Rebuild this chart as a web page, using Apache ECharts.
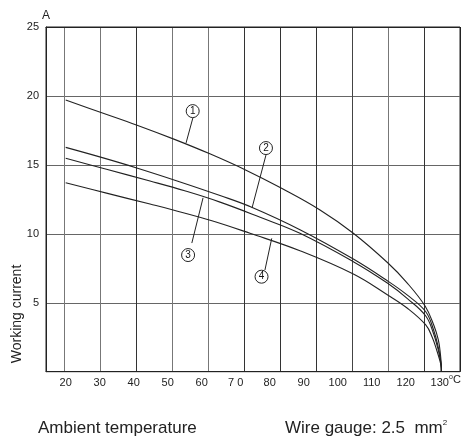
<!DOCTYPE html>
<html>
<head>
<meta charset="utf-8">
<script src="https://cdn.jsdelivr.net/npm/echarts@6/dist/echarts.min.js"></script>
<style>
html,body{margin:0;padding:0;background:#fff;}
#c{width:465px;height:439px;}
</style>
</head>
<body>
<div id="c"></div>
<script>
// Curve data: [temperature °C, current A]
const curve1 = [[20,19.7],[30.4,18.8],[41,17.88],[52,16.85],[62.4,15.8],[72.9,14.63],[83.5,13.3],[94.8,11.73],[104.6,10.04],[114.7,7.9],[120.2,6.5],[125.7,4.76],[128.3,3.35],[129.6,2.3],[130.2,1.3],[130.45,0.55],[130.5,0]];
const curve2 = [[20,16.27],[30,15.58],[40.9,14.78],[53,13.82],[65.4,12.78],[74.7,11.93],[88.9,10.3],[104.6,8.17],[114.7,6.58],[120.5,5.55],[125.9,4.35],[128.3,2.95],[129.6,1.75],[130.2,0.95],[130.45,0.4],[130.5,0]];
const curve3 = [[20,15.48],[32,14.68],[44.8,13.83],[55,13.12],[65.4,12.3],[77,11.22],[88.9,10.04],[104.6,7.98],[114.7,6.41],[120.5,5.3],[125.9,4.04],[128.2,2.75],[129.5,1.65],[130.15,0.9],[130.45,0.38],[130.5,0]];
const curve4 = [[20,13.71],[32,12.95],[44.8,12.16],[51.6,11.73],[63,10.95],[74.2,10.04],[88.9,8.77],[104.6,7.08],[114.7,5.56],[120.5,4.6],[125.9,3.39],[127.8,2.5],[129.2,1.5],[130.05,0.8],[130.45,0.33],[130.5,0]];
const curveNames = ['1','2','3','4'];
// Annotation circles (position in data units) and their leader lines
const markerPos = [[57.35,18.9],[78.9,16.22],[56.0,8.46],[77.6,6.89]];
const leaders = [
  [[57.4,18.4],[55.4,16.59]],
  [[78.9,15.71],[74.8,11.87]],
  [[57.1,9.33],[60.4,12.61]],
  [[78.6,7.37],[80.6,9.67]]
];
const yTicks = {min:0, max:25, interval:5};
const labelAxisRange = {min:14.21, max:135.97};
const gridAxisRange = {min:14.9, max:130};

const chart = echarts.init(document.getElementById('c'), null, {renderer:'canvas'});
const FONT = '"Liberation Sans", Arial, sans-serif';
const lineColor = '#222';

const series = [];
[curve1, curve2, curve3, curve4].forEach((d, i) => {
  series.push({
    type:'line', name:'c'+curveNames[i], data:d, xAxisIndex:0, yAxisIndex:0,
    showSymbol:false, smooth:0.4,
    lineStyle:{color:lineColor, width:1.1}, silent:true, z:3
  });
});
leaders.forEach((d) => {
  series.push({
    type:'line', data:d, xAxisIndex:0, yAxisIndex:0, showSymbol:false,
    lineStyle:{color:lineColor, width:1}, silent:true, z:3
  });
});
series.push({
  type:'scatter', xAxisIndex:0, yAxisIndex:0,
  data: markerPos.map((p, i) => ({value:p, name:curveNames[i]})),
  symbol:'circle', symbolSize:13,
  itemStyle:{color:'#fff', borderColor:lineColor, borderWidth:1, opacity:1},
  label:{show:true, position:'inside', formatter:(p)=>p.name, fontSize:10, color:'#111', fontFamily:FONT},
  silent:true, z:5
});

chart.setOption({
  animation:false,
  backgroundColor:'#fff',
  textStyle:{fontFamily:FONT},
  grid:{left:46, right:5, top:27, bottom:67.3, show:true, borderColor:'#222', borderWidth:1, backgroundColor:'transparent'},
  xAxis:[
    {
      type:'value', position:'bottom', min:labelAxisRange.min, max:labelAxisRange.max,
      splitNumber:12, minInterval:10, maxInterval:10,
      axisLine:{show:true, lineStyle:{color:'#222', width:1}},
      axisTick:{show:false}, splitLine:{show:false},
      axisLabel:{
        show:true, margin:6, fontSize:11, color:'#222', fontFamily:FONT,
        showMinLabel:false, showMaxLabel:false,
        formatter:(v)=>{ const r=Math.round(v); if (Math.abs(v-r)>1e-6 || r%10!==0) return ''; return r===70 ? '7 0' : String(r); }
      }
    },
    {
      type:'value', position:'top', min:gridAxisRange.min, max:gridAxisRange.max,
      splitNumber:12, minInterval:10, maxInterval:10,
      axisLine:{show:true, lineStyle:{color:'#222', width:1}},
      axisTick:{show:false}, axisLabel:{show:false},
      splitLine:{show:true, lineStyle:{color:['#555','#777','#777','#333','#777','#777','#333','#333','#333','#444','#777','#333','#222'], width:1}}
    }
  ],
  yAxis:[{
    type:'value', min:yTicks.min, max:yTicks.max, interval:yTicks.interval,
    name:'A', nameLocation:'end', nameGap:5,
    nameTextStyle:{fontSize:12, color:'#222', align:'center', fontFamily:FONT},
    axisLine:{show:true, lineStyle:{color:'#222', width:1}},
    axisTick:{show:false},
    axisLabel:{show:true, showMinLabel:false, margin:7, fontSize:11, color:'#222', fontFamily:FONT},
    splitLine:{show:true, lineStyle:{color:'#666', width:1}}
  }],
  graphic:[
    {type:'text', x:17, y:314, rotation:Math.PI/2, silent:true,
     style:{text:'Working current', fontSize:14, fontFamily:FONT, fill:'#222', textAlign:'center', textVerticalAlign:'middle'}},
    {type:'text', x:449, y:380, silent:true,
     style:{text:'{s|o}C', fontSize:11, fontFamily:FONT, fill:'#222', textVerticalAlign:'middle',
       rich:{s:{fontSize:7, verticalAlign:'top', padding:[0,0,6,0], fontFamily:FONT, fill:'#222'}}}},
    {type:'text', x:38, y:428, silent:true,
     style:{text:'Ambient temperature', fontSize:17, fontFamily:FONT, fill:'#222', textVerticalAlign:'middle'}},
    {type:'text', x:285, y:428, silent:true,
     style:{text:'Wire gauge: 2.5  mm{s|2}', fontSize:17, fontFamily:FONT, fill:'#222', textVerticalAlign:'middle',
       rich:{s:{fontSize:8, padding:[0,0,10,0], fontFamily:FONT, fill:'#222'}}}}
  ],
  series: series
});
</script>
</body>
</html>
